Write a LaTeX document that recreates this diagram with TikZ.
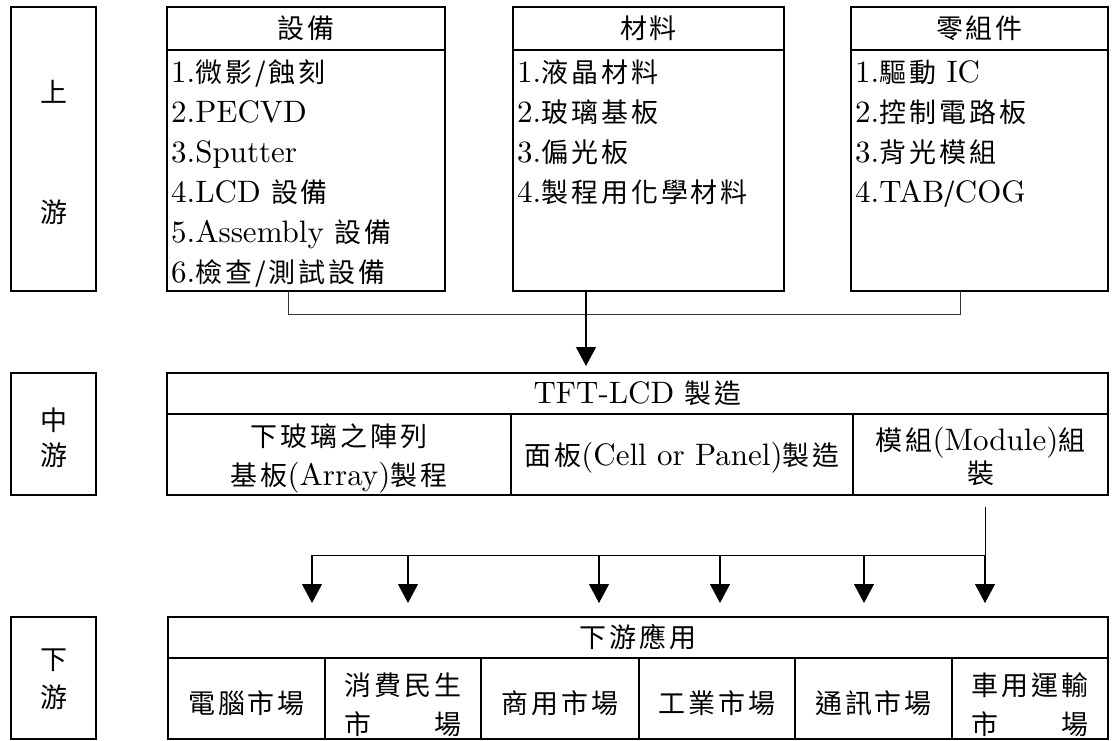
\documentclass[tikz,border=0pt]{standalone}
\usepackage{fontspec}
\setmainfont{lmroman10-regular.otf}
\newfontfamily\cjk[LetterSpace=11,Scale=0.87]{Noto Sans CJK TC}
\usetikzlibrary{arrows.meta}
\newcommand\zh[1]{{\cjk #1}}
\begin{document}
\begin{tikzpicture}[x=1pt,y=-1pt,
  box/.style={draw, line width=1.5pt, inner sep=0pt, outer sep=0pt, anchor=north west},
  txt/.style={inner sep=0pt, font=\fontsize{31}{40}\selectfont},
  conn/.style={line width=1pt, draw=black!80},
  arr/.style={line width=1.1pt, draw=black, -{Triangle[length=19pt,width=20pt]}}
]
\useasboundingbox (0,0) rectangle (1114,740);

% ---------- upstream ----------
\node[box, minimum width=85pt, minimum height=284pt] (upl) at (11,7) {};
\node[txt] (upa) at (53.5,92) {\zh{上}};
\node[txt] (upb) at (53.5,212) {\zh{游}};

\node[box, minimum width=278pt, minimum height=43pt] (eqh) at (167,7) {};
\node[box, minimum width=278pt, minimum height=241pt] (eqb) at (167,50) {};
\node[txt] (eqt) at (eqh.center) {\zh{設備}};
\node[txt, anchor=base west] (e1) at (171,82) {1.\zh{微影/蝕刻}};
\node[txt, anchor=base west] (e2) at (171,122) {2.PECVD};
\node[txt, anchor=base west] (e3) at (171,162) {3.Sputter};
\node[txt, anchor=base west] (e4) at (171,202) {4.LCD \zh{設備}};
\node[txt, anchor=base west] (e5) at (171,242) {5.Assembly \zh{設備}};
\node[txt, anchor=base west] (e6) at (171,282) {6.\zh{檢查/測試設備}};

\node[box, minimum width=271pt, minimum height=43pt] (math) at (513,7) {};
\node[box, minimum width=271pt, minimum height=241pt] (matb) at (513,50) {};
\node[txt] (matt) at (math.center) {\zh{材料}};
\node[txt, anchor=base west] (ma1) at (517,82) {1.\zh{液晶材料}};
\node[txt, anchor=base west] (ma2) at (517,122) {2.\zh{玻璃基板}};
\node[txt, anchor=base west] (ma3) at (517,162) {3.\zh{偏光板}};
\node[txt, anchor=base west] (ma4) at (517,202) {4.\zh{製程用化學材料}};

\node[box, minimum width=257pt, minimum height=43pt] (comph) at (851,7) {};
\node[box, minimum width=257pt, minimum height=241pt] (compb) at (851,50) {};
\node[txt] (compt) at (comph.center) {\zh{零組件}};
\node[txt, anchor=base west] (c1) at (855,82) {1.\zh{驅動} IC};
\node[txt, anchor=base west] (c2) at (855,122) {2.\zh{控制電路板}};
\node[txt, anchor=base west] (c3) at (855,162) {3.\zh{背光模組}};
\node[txt, anchor=base west] (c4) at (855,202) {4.TAB\zh{/}COG};

% ---------- midstream ----------
\node[box, minimum width=85pt, minimum height=122pt] (midl) at (11,373) {};
\node[txt] (mida) at (53.5,420) {\zh{中}};
\node[txt] (midb) at (53.5,455) {\zh{游}};

\node[box, minimum width=941pt, minimum height=41pt] (midh) at (167,373) {};
\node[box, minimum width=344pt, minimum height=81pt] (m1) at (167,414) {};
\node[box, minimum width=342pt, minimum height=81pt] (m2) at (511,414) {};
\node[box, minimum width=255pt, minimum height=81pt] (m3) at (853,414) {};
\node[txt] (midt) at (midh.center) {TFT-LCD \zh{製造}};
\node[txt, anchor=base] (m1a) at (339,446) {\zh{下玻璃之陣列}};
\node[txt, anchor=base] (m1b) at (339,485) {\zh{基板}(Array)\zh{製程}};
\node[txt, anchor=base] (m2a) at (682,465) {\zh{面板}(Cell or Panel)\zh{製造}};
\node[txt, anchor=base] (m3a) at (980.5,450) {\zh{模組}(Module)\zh{組}};
\node[txt, anchor=base] (m3b) at (980.5,483) {\zh{裝}};

% ---------- downstream ----------
\node[box, minimum width=85pt, minimum height=122pt] (dnl) at (11,617) {};
\node[txt] (dna) at (53.5,660) {\zh{下}};
\node[txt] (dnb) at (53.5,697) {\zh{游}};

\node[box, minimum width=940pt, minimum height=41pt] (dh) at (168,617) {};
\node[box, minimum width=157pt, minimum height=81pt] (d1) at (168,658) {};
\node[box, minimum width=156pt, minimum height=81pt] (d2) at (325,658) {};
\node[box, minimum width=158pt, minimum height=81pt] (d3) at (481,658) {};
\node[box, minimum width=156pt, minimum height=81pt] (d4) at (639,658) {};
\node[box, minimum width=157pt, minimum height=81pt] (d5) at (795,658) {};
\node[box, minimum width=156pt, minimum height=81pt] (d6) at (952,658) {};
\node[txt] (dht) at (dh.center) {\zh{下游應用}};

\coordinate (r2) at (0,734);
\node[txt, anchor=base] (d1t) at (246.5,713) {\zh{電腦市場}};
\node[txt, anchor=base] (d2a) at (403,695) {\zh{消費民生}};
\node[txt, anchor=base west] (d2b) at (d2a.west |- r2) {\zh{市}};
\node[txt, anchor=base east] (d2c) at (d2a.east |- r2) {\zh{場}};
\node[txt, anchor=base] (d3t) at (560,713) {\zh{商用市場}};
\node[txt, anchor=base] (d4t) at (717,713) {\zh{工業市場}};
\node[txt, anchor=base] (d5t) at (873.5,713) {\zh{通訊市場}};
\node[txt, anchor=base] (d6a) at (1030,695) {\zh{車用運輸}};
\node[txt, anchor=base west] (d6b) at (d6a.west |- r2) {\zh{市}};
\node[txt, anchor=base east] (d6c) at (d6a.east |- r2) {\zh{場}};

% ---------- connectors ----------
\coordinate (j1) at (288,314);
\coordinate (j2) at (586,314);
\coordinate (j3) at (960,314);
\draw[conn] (eqb.south -| j1) -- (j1) -- (j3) -- (compb.south -| j3);
\draw[arr, shorten >=7pt] (matb.south -| j2) -- (midh.north -| j2);

\coordinate (k0) at (985,555);
\coordinate (k1) at (312,555);
\coordinate (k2) at (408,555);
\coordinate (k3) at (599,555);
\coordinate (k4) at (720,555);
\coordinate (k5) at (864,555);
\draw[conn, draw=black, shorten <=12pt] (m3.south -| k0) -- (k0);
\draw[conn, draw=black] (k0) -- (k1);
\foreach \n in {0,1,2,3,4,5}
  \draw[arr, shorten >=14pt] (k\n) -- (dh.north -| k\n);
\end{tikzpicture}
\end{document}
